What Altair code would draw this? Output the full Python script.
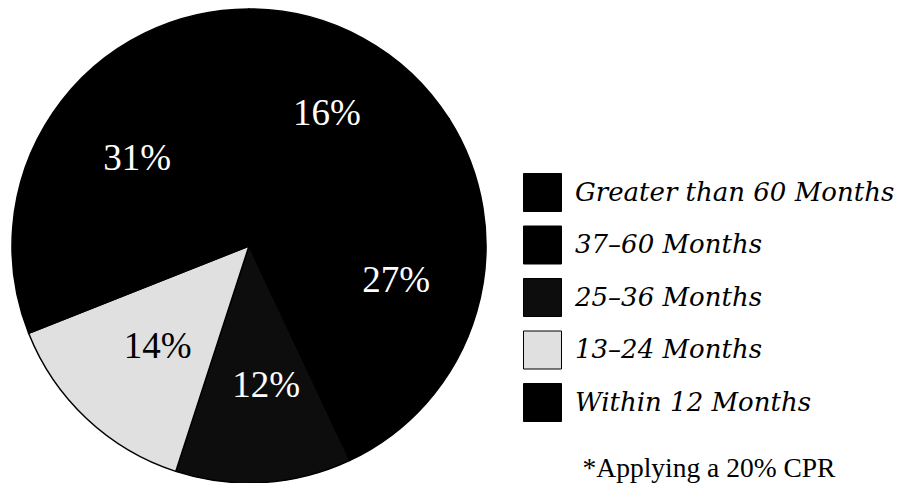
import altair as alt
import pandas as pd

categories = ["Greater than 60 Months", "37–60 Months", "25–36 Months", "13–24 Months", "Within 12 Months"]
values = [16, 27, 12, 14, 31]
colors = ["#000000", "#000000", "#0d0d0d", "#e0e0e0", "#000000"]
footnote = "*Applying a 20% CPR"

df = pd.DataFrame({"cat": categories, "value": values, "idx": list(range(len(categories)))})

base = alt.Chart(df).encode(
    theta=alt.Theta("value:Q", stack=True),
    order=alt.Order("idx:Q"),
)

arcs = base.mark_arc(radius=237, stroke="black", strokeWidth=1.5).encode(
    color=alt.Color(
        "cat:N",
        sort=categories,
        scale=alt.Scale(domain=categories, range=colors),
        legend=alt.Legend(
            orient="none",
            legendX=523,
            legendY=173,
            symbolType="square",
            symbolSize=1444,
            symbolStrokeColor="black",
            symbolStrokeWidth=1,
            symbolOpacity=1,
            labelFont="DejaVu Serif",
            labelFontStyle="italic",
            labelFontSize=26,
            labelColor="black",
            labelOffset=13,
            labelLimit=500,
            rowPadding=9.5,
            title=footnote,
            titleOrient="bottom",
            titleFont="Liberation Serif",
            titleFontSize=27.5,
            titleFontWeight="normal",
            titleColor="black",
            titlePadding=31,
            titleAnchor="middle",
            titleLimit=500,
        ),
    )
)

labels = base.transform_calculate(label="datum.value + '%'").mark_text(
    radius=145, font="Liberation Serif", fontSize=37, dx=8, dy=-5
).encode(
    text="label:N",
    color=alt.condition(alt.datum.cat == "13–24 Months", alt.value("black"), alt.value("white")),
)

chart = alt.layer(arcs, labels).properties(
    width=498, height=492, autosize="pad", padding=0, background="white"
).configure_view(stroke=None)

chart.save("out.html", embed_options={"renderer": "svg", "actions": False})
